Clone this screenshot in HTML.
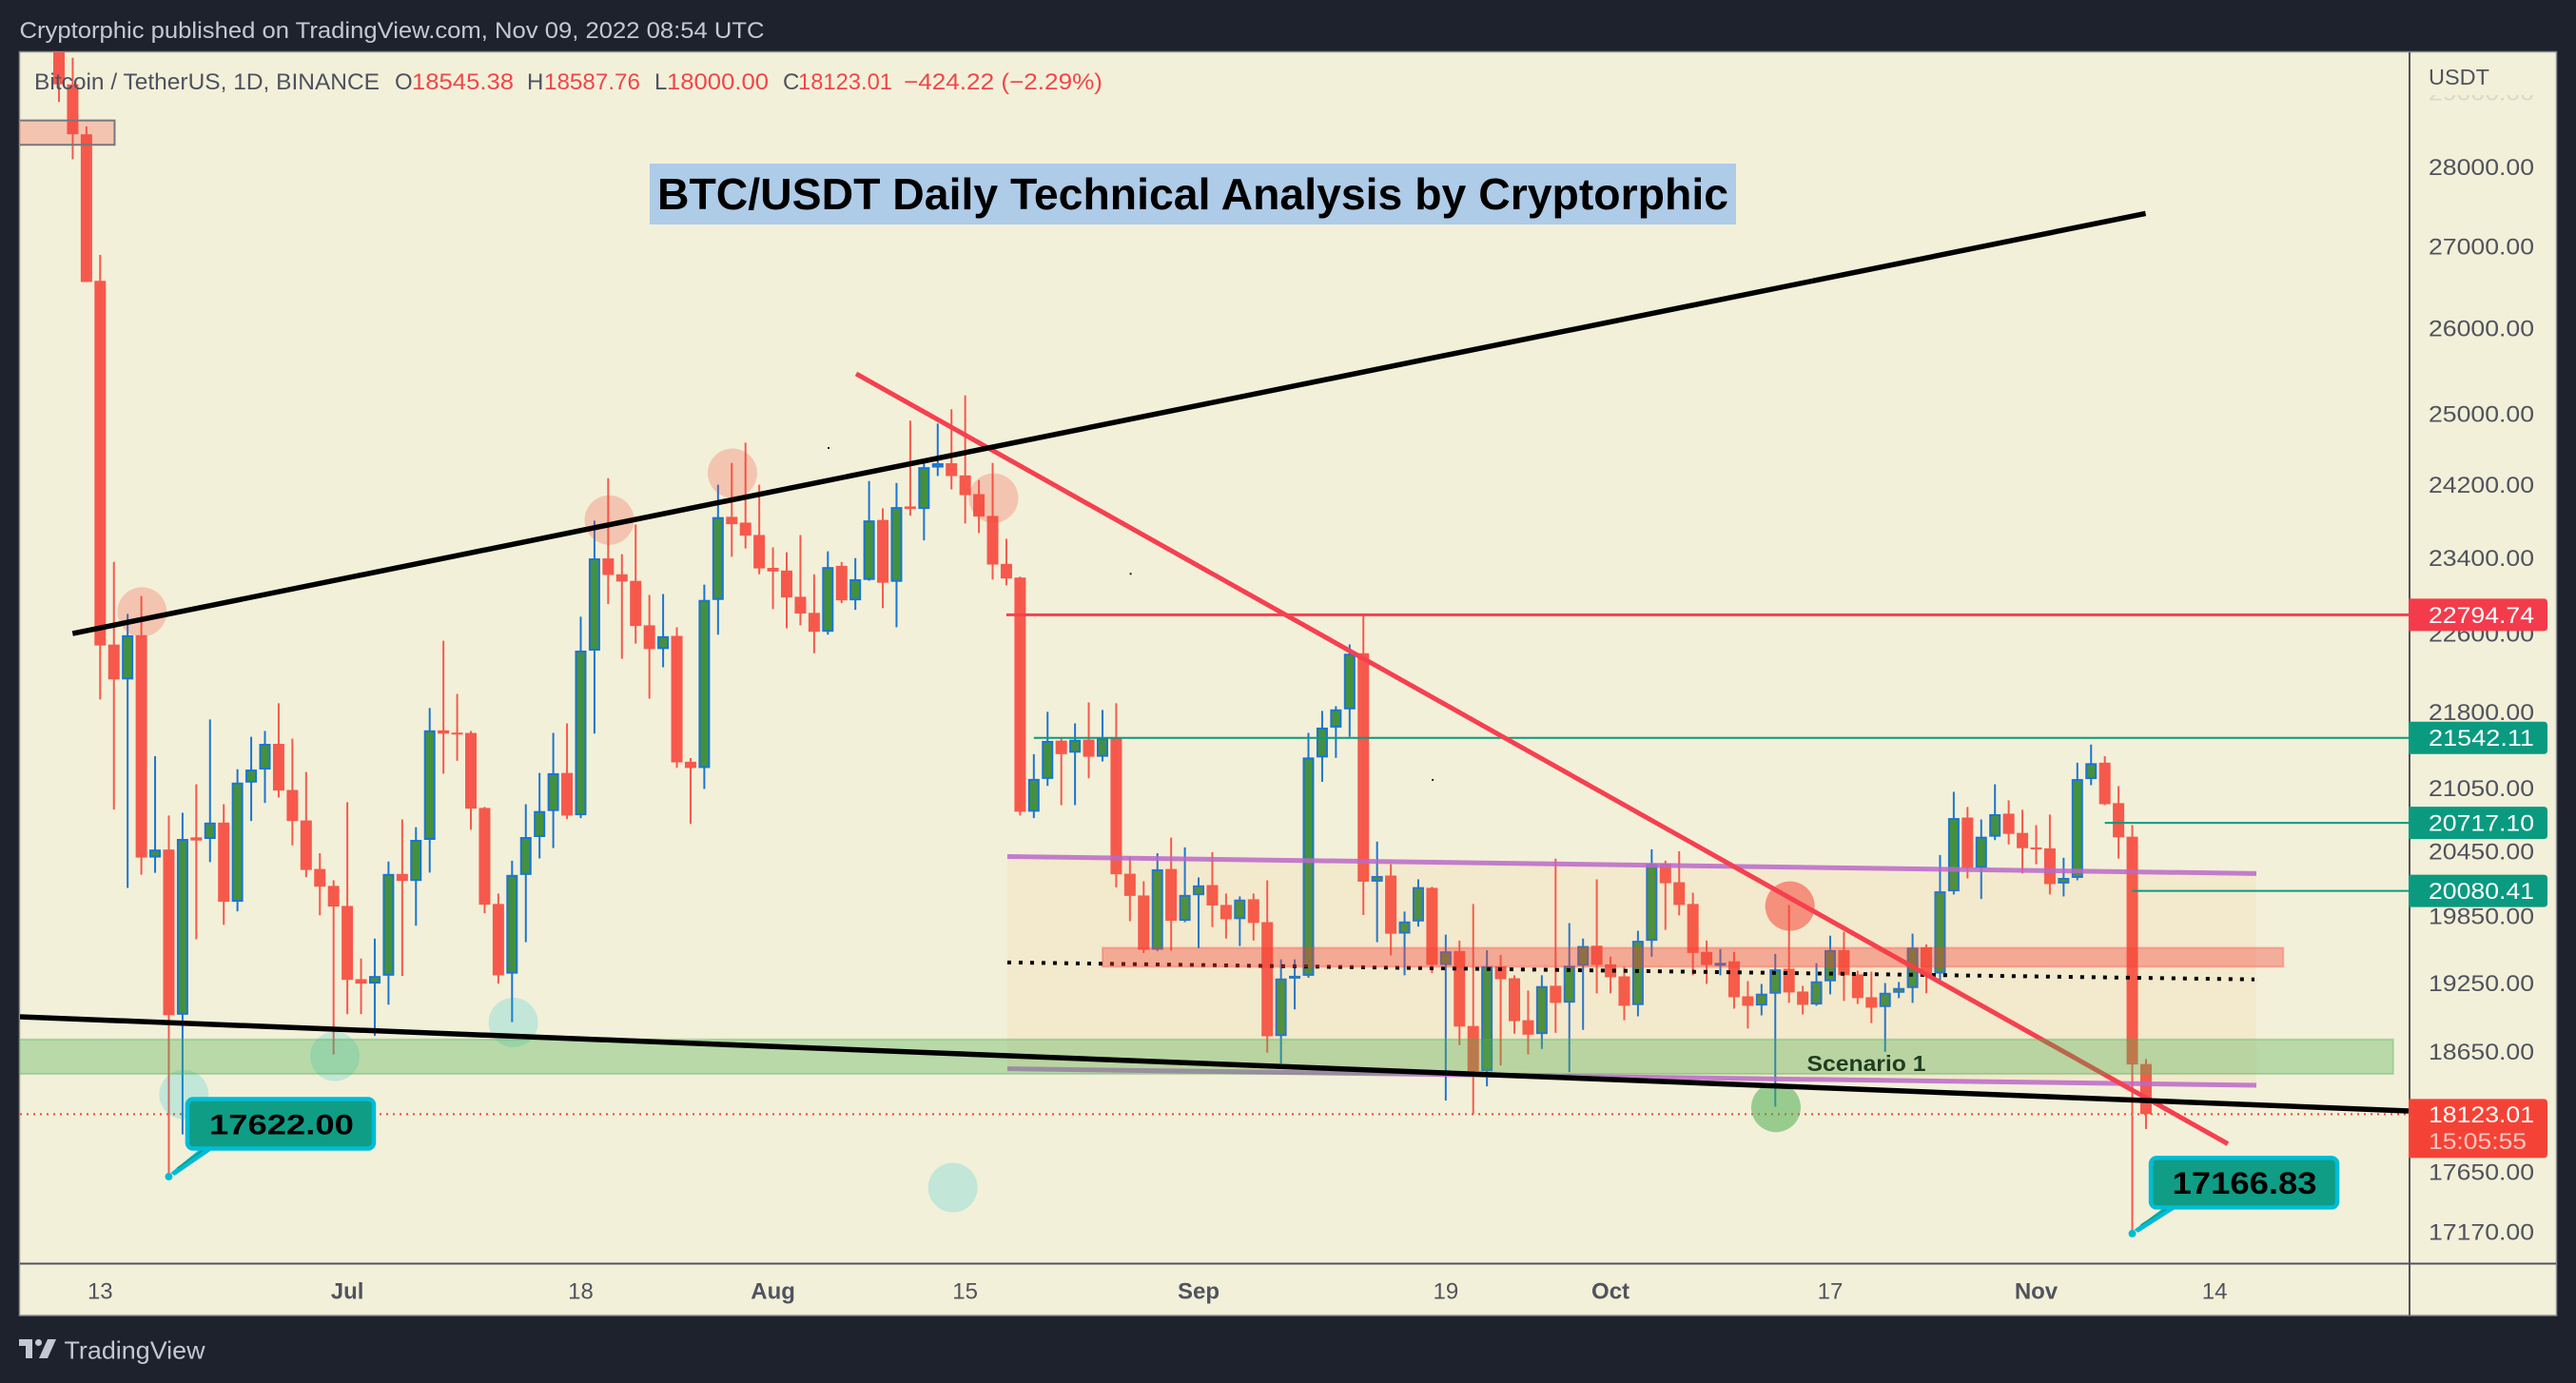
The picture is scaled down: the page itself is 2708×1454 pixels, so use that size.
<!DOCTYPE html>
<html lang="en">
<head>
<meta charset="utf-8">
<title>BTC/USDT Daily Technical Analysis by Cryptorphic</title>
<style>
html,body{margin:0;padding:0;background:#1e222d;width:2708px;height:1454px;overflow:hidden}
svg{display:block;font-family:"Liberation Sans",sans-serif}
</style>
</head>
<body>
<svg id="chart" width="2708" height="1454" viewBox="0 0 2708 1454" xmlns="http://www.w3.org/2000/svg">
  <defs>
    <clipPath id="plot-clip"><rect x="21" y="55" width="2512" height="1273"/></clipPath>
    <clipPath id="tick-clip"><rect x="2535" y="100" width="150" height="1228"/></clipPath>
  </defs>
  <rect x="0" y="0" width="2708" height="1454" fill="#1e222d"/>
  <rect x="20.5" y="54.5" width="2667" height="1328.5" fill="#f3f0d9" stroke="#8b8d94" stroke-width="1.5"/>
  <g id="plot" clip-path="url(#plot-clip)"></g>
  <line x1="21" y1="1328.5" x2="2687" y2="1328.5" stroke="#50535e" stroke-width="2"/>
  <line x1="2533" y1="55" x2="2533" y2="1383" stroke="#50535e" stroke-width="2"/>
  <g id="axes"></g>

  <text x="20.5" y="40" font-size="24" fill="#c5c8d4" textLength="783" lengthAdjust="spacingAndGlyphs">Cryptorphic published on TradingView.com, Nov 09, 2022 08:54 UTC</text>

  <g font-size="24">
    <text x="36" y="94" fill="#4e5260" textLength="363" lengthAdjust="spacingAndGlyphs">Bitcoin / TetherUS, 1D, BINANCE</text>
    <text x="415" y="94" fill="#4e5260">O</text>
    <text x="433" y="94" fill="#f0474b" textLength="107" lengthAdjust="spacingAndGlyphs">18545.38</text>
    <text x="554" y="94" fill="#4e5260">H</text>
    <text x="572" y="94" fill="#f0474b" textLength="101" lengthAdjust="spacingAndGlyphs">18587.76</text>
    <text x="688" y="94" fill="#4e5260">L</text>
    <text x="701" y="94" fill="#f0474b" textLength="107" lengthAdjust="spacingAndGlyphs">18000.00</text>
    <text x="823" y="94" fill="#4e5260">C</text>
    <text x="839" y="94" fill="#f0474b" textLength="99" lengthAdjust="spacingAndGlyphs">18123.01</text>
    <text x="950" y="94" fill="#f0474b" textLength="209" lengthAdjust="spacingAndGlyphs">−424.22 (−2.29%)</text>
  </g>

  <rect x="683" y="172" width="1142" height="64" fill="#aecbe8"/>
  <text x="691" y="220" font-size="46" font-weight="700" fill="#000" textLength="1126" lengthAdjust="spacingAndGlyphs">BTC/USDT Daily Technical Analysis by Cryptorphic</text>

  <text x="1899.5" y="1126" font-size="23" font-weight="700" fill="#1f3d1f" textLength="125" lengthAdjust="spacingAndGlyphs">Scenario 1</text>

  <g id="callouts"></g>

  <text x="2553" y="89" font-size="23" fill="#50535e" textLength="64" lengthAdjust="spacingAndGlyphs">USDT</text>

  <g fill="#c5c8d4">
    <path d="M20 1408H34V1428H27V1415H20Z"/>
    <circle cx="40.5" cy="1411.5" r="3.5"/>
    <path d="M50 1408H59L50 1428H41Z"/>
    <text x="67.5" y="1428.5" font-size="26" textLength="148" lengthAdjust="spacingAndGlyphs">TradingView</text>
  </g>
</svg>
<script>
// ---- Daily candles, Jun 10 – Nov 9 2022 (BTC/USDT) ----
const opens = [30100,29084,28424,26574,22485,22128,22582,20390,20465,18970,
20580,20565,20720,19980,21104,21231,21483,21033,20740,20283,
20126,19942,19282,19243,19313,20237,20172,20556,21617,21594,
21591,20860,19960,19331,20228,20583,20830,21198,20790,22423,
23393,23223,23153,22685,22439,22575,21307,21246,22951,23844,
23781,23646,23292,23263,22984,22815,22618,23313,22947,23163,
23810,23143,23958,23930,24390,24438,24302,24094,23854,23334,
23188,20824,21140,21515,21396,21525,21356,21543,20239,20038,
19545,20283,19806,20040,20134,19951,19821,20003,19794,18785,
19288,19312,21349,21644,21826,22396,20165,20222,19690,19800,
20108,19408,19533,18872,18484,19397,19290,18922,18802,19224,
19075,19402,19581,19414,19307,19054,19625,20335,20160,19960,
19525,19410,19441,19131,19050,19154,19375,19173,19059,19263,
19541,19324,19123,19037,19162,19204,19567,19332,20076,20768,
20292,20586,20805,20622,20485,20476,20148,20200,21138,21298,
20906,20586,18545.38];
const highs = [30350,29440,28528,26893,23355,22805,22994,21362,20787,20814,
21088,21725,20896,21234,21553,21610,21887,21534,21207,20431,
20178,20915,19466,19645,20353,20750,20677,21839,22525,21982,
21610,20869,20056,20361,20896,21198,21591,21686,22775,23802,
24271,23438,23761,23004,23014,22665,21343,23113,24198,24441,
24670,24198,23511,23459,23646,23223,23469,23355,23396,24239,
23938,24218,24921,24450,24888,25052,25213,24250,24441,23604,
23198,21382,21801,21543,21686,21896,21820,21887,20396,20169,
20431,20577,20486,20204,20440,20056,20029,20056,20178,19458,
19458,21591,21811,21858,22487,22799,20540,20327,19890,20187,
20117,19681,19627,19960,19540,19498,19316,19182,19316,20379,
19785,19645,20187,19483,19391,19715,20467,20361,20449,20064,
19627,19550,19525,19265,19240,19507,19951,19223,19424,19671,
19706,19358,19349,19248,19257,19689,19593,20414,21015,20869,
20750,21088,20933,20842,20696,20796,20388,21298,21476,21362,
21070,20696,18587.76];
const lows = [28850,28099,26560,21925,20844,20108,20230,20247,17622,17955,
19639,20347,19770,19892,20735,20908,20960,20504,20207,19857,
18628,18975,18975,18786,19058,19310,19761,20250,21191,21316,
20653,19875,19243,18905,19613,20382,20479,20753,20762,21584,
22907,22339,22495,21934,22252,21246,20707,21042,22588,23410,
23500,23223,22854,22655,22685,22396,22588,22917,22847,23155,
22864,22665,23857,23587,24295,24146,23771,23667,23167,23105,
20788,20762,21072,20887,20887,21146,21310,20112,19802,19516,
19533,19536,19794,19560,19750,19645,19578,19627,18643,18549,
19016,19294,21111,21345,21553,19859,19613,19493,19316,19753,
19336,18237,18706,18124,18356,18532,18805,18626,18674,18813,
18476,18838,19157,19157,18922,18956,19483,19724,19855,19316,
19240,19316,19023,18850,18964,18185,19073,18972,19048,19148,
19090,19064,18897,18650,19115,19073,19157,19274,20047,20196,
20006,20554,20513,20242,20327,20047,20029,20178,21079,20887,
20379,17166.83,18000];
const closes = [29084,28424,26560,22476,22128,22582,20390,20465,18966,20565,
20550,20720,19980,21104,21231,21483,21027,20735,20274,20119,
19936,19276,19243,19310,20237,20172,20556,21617,21584,21579,
20853,19953,19316,20228,20583,20830,21195,20787,22423,23393,
23216,23146,22678,22439,22572,21301,21246,22951,23841,23764,
23639,23286,23253,22977,22808,22618,23300,22947,23170,23805,
23133,23951,23930,24394,24438,24295,24083,23847,23327,23178,
20824,21140,21512,21382,21524,21356,21543,20234,20034,19545,
20280,19806,20043,20131,19946,19820,20000,19787,18783,19288,
19312,21349,21644,21826,22391,20165,20218,19689,19800,20115,
19408,19530,18867,18484,19397,19282,18914,18797,19221,19073,
19402,19578,19408,19299,19048,19625,20331,20151,19951,19516,
19408,19427,19123,19048,19154,19369,19165,19056,19263,19541,
19318,19115,19031,19162,19204,19564,19324,20076,20763,20292,
20586,20800,20613,20478,20473,20143,20200,21138,21293,20896,
20580,18541,18123.01];

// ---- Axis tick data ----
const priceTicks = [28000,27000,26000,25000,24200,23400,22600,21800,21050,20450,19850,19250,18650,17650,17170];
const fadedPriceTick = 29000;
const timeTickBars = [3,21,38,52,66,83,101,113,129,144,157];
const timeTickLabels = ['13','Jul','18','Aug','15','Sep','19','Oct','17','Nov','14'];
const monthTicks = ['Jul','Aug','Sep','Oct','Nov'];

// ---- Price levels: value and the bar they start on ----
const levelPrices = [22794.74,21542.11,20717.10,20080.41];
const levelStartBars = [69,71,149,151];
const lastPrice = 18123.01;
const countdown = '15:05:55';

// ---- Drawings in chart terms: [bar, price] ----
const upperTrend = [[0.99,22600],[151.97,27409]];
const lowerTrend = [[-2.86,18952],[171.12,18150]];
const redTrend = [[58.06,25463],[157.96,17878]];
const channelTop = [[69.07,20400],[160.04,20241]];
const channelMid = [[69.07,19431],[159.9,19280]];
const channelBottom = [[69.07,18505],[160.04,18365]];
const redZone = [[76,19562],[162,19392]];
const greenZone = [[-3,18756],[170,18461]];
const topLeftZone = [[-3,28605],[4.05,28287]];
const redCircleCentres = [[6.05,22825],[40.08,23809],[49.05,24327],[68.07,24050]];
const strongRedCircleCentres = [[126.07,19940]];
const tealCircleCentres = [[9.1,18287],[20.09,18610],[33.09,18902],[65.1,17522]];
const greenCircleCentres = [[125.05,18179]];
const strayDots = [[56.05,24610],[78.05,23228],[100.05,21130]];
const calloutLows = [[8,17622.00],[151,17166.83]];

// ---- Axis functions ----
const BAR_ZERO = 62, BAR_STEP = 14.434;
const PRICE_REF = 17170, Y_REF = 1295, Y_PER_LOG = 2289;
function xAt(bar){ return BAR_ZERO + BAR_STEP * bar; }
function yAt(price){ return Y_REF - Y_PER_LOG * Math.log(price / PRICE_REF); }

const SVGNS = 'http://www.w3.org/2000/svg';
function make(parent, tag, attrs, text){
  const el = document.createElementNS(SVGNS, tag);
  for (const k in attrs) el.setAttribute(k, attrs[k]);
  if (text !== undefined) el.textContent = text;
  parent.appendChild(el);
  return el;
}
const plot = document.getElementById('plot');
const axes = document.getElementById('axes');
const callouts = document.getElementById('callouts');

function drawLine(pts, color, width, dash, name){
  const a = {x1:xAt(pts[0][0]),y1:yAt(pts[0][1]),x2:xAt(pts[1][0]),y2:yAt(pts[1][1]),stroke:color,'stroke-width':width};
  if (dash) a['stroke-dasharray'] = dash;
  const el = make(plot,'line',a);
  
  
  return el;
}
function drawZone(box, fill, stroke, name){
  const yTop = yAt(box[0][1]), yBot = yAt(box[1][1]);
  const el = make(plot,'rect',{x:xAt(box[0][0]),y:yTop,width:xAt(box[1][0])-xAt(box[0][0]),height:yBot-yTop,fill:fill,stroke:stroke,'stroke-width':2});
  
  
  return el;
}
function drawCircles(list, fill, name){
  list.forEach(function(c){
    const el = make(plot,'circle',{cx:xAt(c[0]),cy:yAt(c[1]),r:26,fill:fill});
    
    
  });
}

// current price dotted line
const lastLine = make(plot,'line',{x1:21,x2:2533,y1:yAt(lastPrice),y2:yAt(lastPrice),stroke:'#f44336','stroke-width':2,'stroke-dasharray':'2 5'});



// candles
const RED = '#f6594c', GREEN = '#43913f', BLUE = '#1976d2';
opens.forEach(function(o, i){
  const c = closes[i], up = c >= o;
  const cx = xAt(i);
  const g = make(plot,'g',{});
  
  
  const wick = make(g,'line',{x1:cx,x2:cx,y1:yAt(highs[i]),y2:yAt(lows[i]),stroke:up?BLUE:RED,'stroke-width':2});
  
  
  const top = yAt(Math.max(o,c)), bot = yAt(Math.min(o,c));
  const h = Math.max(bot - top, 2);
  let body;
  if (up) {
    body = make(g,'rect',{x:cx-5,y:top+1,width:10,height:Math.max(h-2,1),fill:GREEN,stroke:BLUE,'stroke-width':2});
  } else {
    body = make(g,'rect',{x:cx-6,y:top,width:12,height:h,fill:RED});
  }
  
  
});

// circles marking touches
drawCircles(redCircleCentres,'rgba(244,67,54,0.25)','resistance-touch-circle');
drawCircles(strongRedCircleCentres,'rgba(244,67,54,0.55)','rejection-circle');
drawCircles(tealCircleCentres,'rgba(0,188,212,0.2)','support-touch-circle');
drawCircles(greenCircleCentres,'rgba(76,175,80,0.55)','support-bounce-circle');

// stray specks
strayDots.forEach(function(d){
  const el = make(plot,'rect',{x:xAt(d[0])-1,y:yAt(d[1])-1,width:2,height:2,fill:'#222'});
  
  
});

// parallel channel
const channelFill = make(plot,'polygon',{points:[channelTop[0],channelTop[1],channelBottom[1],channelBottom[0]].map(function(p){return xAt(p[0])+','+yAt(p[1]);}).join(' '),fill:'rgba(255,140,60,0.07)'});


drawLine(channelTop,'rgba(186,104,200,0.85)',5,null,'channel-top-line');
drawLine(channelBottom,'rgba(186,104,200,0.85)',5,null,'channel-bottom-line');
drawLine(channelMid,'#000',4,'4 8','channel-mid-dotted-line');

// horizontal levels
const levelColors = ['#f6404f','#0a9a80','#0a9a80','#0a9a80'];
const levelWidths = [3,2,2,2];
levelPrices.forEach(function(p, i){
  const el = make(plot,'line',{x1:xAt(levelStartBars[i]),x2:2533,y1:yAt(p),y2:yAt(p),stroke:levelColors[i],'stroke-width':levelWidths[i]});
  
  
});

drawLine(redTrend,'#f6404f',5,null,'red-descending-trendline');
drawZone(redZone,'rgba(244,67,54,0.38)','rgba(244,67,54,0.3)','resistance-zone');
drawZone(greenZone,'rgba(76,175,80,0.35)','rgba(76,175,80,0.35)','support-zone');
drawZone(topLeftZone,'rgba(244,67,54,0.25)','#77787e','upper-left-zone');
drawLine(upperTrend,'#000',5.5,null,'upper-black-trendline');
drawLine(lowerTrend,'#000',5.5,null,'lower-black-trendline');

// price ticks
const TICK_X = 2553, TICK_WIDTH = 111;
priceTicks.forEach(function(p){
  const t = make(axes,'text',{x:TICK_X,y:yAt(p)+8.5,'font-size':24,fill:'#50535e',textLength:TICK_WIDTH,lengthAdjust:'spacingAndGlyphs'},p.toFixed(2));
  
  
});
const faded = make(axes,'text',{x:TICK_X,y:yAt(fadedPriceTick)+10,'font-size':24,fill:'#50535e',opacity:0.15,'clip-path':'url(#tick-clip)',textLength:TICK_WIDTH,lengthAdjust:'spacingAndGlyphs'},fadedPriceTick.toFixed(2));



// time ticks
timeTickLabels.forEach(function(label, i){
  const isMonth = monthTicks.indexOf(label) >= 0;
  const t = make(axes,'text',{x:xAt(timeTickBars[i]),y:1365.5,'font-size':24,'text-anchor':'middle',fill:'#50535e','font-weight':isMonth?700:400},label);
  
  
});

// price badges
const badgeColors = ['#f33b4c','#0a9a80','#0a9a80','#0a9a80'];
function badgePath(top, bot){
  const l = 2532, r = 2678, q = 4;
  return 'M'+l+' '+top+'H'+(r-q)+'Q'+r+' '+top+' '+r+' '+(top+q)+'V'+(bot-q)+'Q'+r+' '+bot+' '+(r-q)+' '+bot+'H'+l+'Z';
}
levelPrices.forEach(function(p, i){
  const cy = yAt(p);
  const b = make(axes,'path',{d:badgePath(cy-17,cy+17),fill:badgeColors[i]});
  
  
  const t = make(axes,'text',{x:TICK_X,y:cy+8.5,'font-size':24,fill:'#fff',textLength:TICK_WIDTH,lengthAdjust:'spacingAndGlyphs'},p.toFixed(2));
  
  
});
const lastY = yAt(lastPrice);
const lastBadge = make(axes,'path',{d:badgePath(lastY-16,lastY+46),fill:'#f44336'});


const lastText = make(axes,'text',{x:TICK_X,y:lastY+8.5,'font-size':24,fill:'#fff',textLength:TICK_WIDTH,lengthAdjust:'spacingAndGlyphs'},lastPrice.toFixed(2));


const cdText = make(axes,'text',{x:TICK_X,y:lastY+36.5,'font-size':24,fill:'#fbc6c0',textLength:103,lengthAdjust:'spacingAndGlyphs'},countdown);



// callouts: box offset relative to the marked low
const boxOffsets = [{dx:19.5,dy:-81.5,w:196,h:52,tx:42.5,tw:152,fs:30},{dx:19.5,dy:-79.5,w:196,h:52,tx:42,tw:152,fs:32}];
calloutLows.forEach(function(low, i){
  const px = xAt(low[0]), py = yAt(low[1]) + 1.5;
  const o = boxOffsets[i];
  const bx = px + o.dx, by = py + o.dy;
  const ptr = make(callouts,'polygon',{points:[(bx+14)+','+(by+o.h),(bx+28)+','+(by+o.h),(px+6)+','+(py-1),(px+2)+','+(py-4)].join(' '),fill:'#00bcd4'});
  
  
  const ptrInner = make(callouts,'line',{x1:bx+19,y1:by+o.h,x2:px+9,y2:py-9,stroke:'#0f9d85','stroke-width':1.5});
  
  
  const dot = make(callouts,'circle',{cx:px,cy:py,r:4,fill:'#00bcd4'});
  
  
  const box = make(callouts,'rect',{x:bx,y:by,width:o.w,height:o.h,rx:6,fill:'#0f9d85',stroke:'#00bcd4','stroke-width':4.5});
  
  
  const txt = make(callouts,'text',{x:px+o.tx,y:by+o.h/2+o.fs*0.36,'font-size':o.fs,'font-weight':700,fill:'#000',textLength:o.tw,lengthAdjust:'spacingAndGlyphs'},low[1].toFixed(2));
  
  
});
</script>
</body>
</html>
